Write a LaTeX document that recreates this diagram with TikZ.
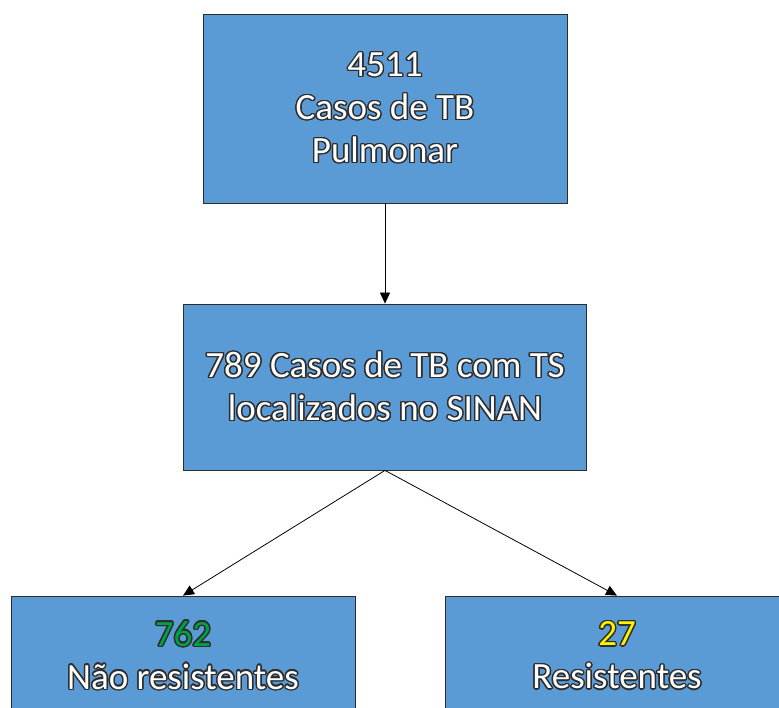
\documentclass[tikz,border=0pt]{standalone}
\usepackage{fontspec}
\setmainfont{Carlito}
\usepackage{contour}
\usetikzlibrary{arrows.meta}
\contourlength{1.4pt}
\definecolor{boxblue}{RGB}{91,155,213}
\definecolor{edgegray}{RGB}{45,45,45}
\definecolor{numgreen}{RGB}{0,160,70}
\newcommand{\olt}[2][white]{\contour{edgegray}{\textcolor{#1}{#2}}}
\begin{document}
\begin{tikzpicture}[x=1pt,y=1pt,
    caixa/.style={draw=edgegray, line width=0.8pt, fill=boxblue, align=center,
        font=\fontsize{37}{43}\selectfont, inner sep=0pt},
    seta/.style={-{Triangle[length=11pt,width=10pt]}, line width=0.8pt}]
    \useasboundingbox (0,0) rectangle (779,-708);

    % caixas
    \node[caixa, minimum width=364, minimum height=189] (total) at (385,-108.5)
        {\olt{4511}\\ \olt{Casos de TB}\\ \olt{Pulmonar}};
    \node[caixa, minimum width=403, minimum height=166] (ts) at (385,-387)
        {\olt{789 Casos de TB com TS}\\ \olt{localizados no SINAN}};
    \node[caixa, minimum width=344, minimum height=120] (naores) at (183,-656)
        {\olt[numgreen]{762}\\ \olt{Não resistentes}};
    \node[caixa, minimum width=344, minimum height=120] (res) at (617,-656)
        {\olt[yellow]{27}\\ \olt{Resistentes}};

    % setas
    \draw[seta] (total.south) -- (ts.north);
    \draw[seta] (ts.south) -- (naores.north);
    \draw[seta] (ts.south) -- (res.north);
\end{tikzpicture}
\end{document}
